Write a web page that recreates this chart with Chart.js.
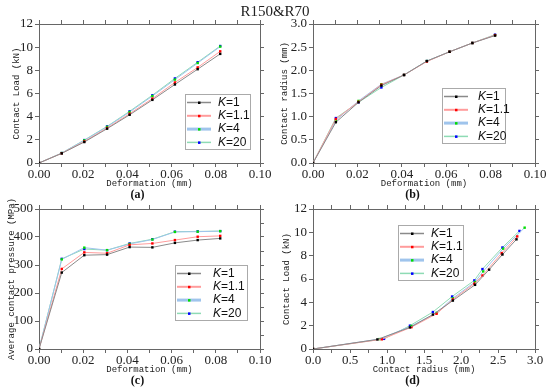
<!DOCTYPE html>
<html>
<head>
<meta charset="utf-8">
<script src="https://cdn.jsdelivr.net/npm/chart.js@4.4.1/dist/chart.umd.min.js"></script>
<style>
	body { margin: 0; background: #fff; }
	#pagina { position: relative; width: 550px; height: 389px; overflow: hidden; }
	#pagina canvas { position: absolute; }
	#titulo { position: absolute; left: 0; top: 3px; width: 550px; text-align: center; font: 15px/17px 'Liberation Serif'; color: #222; }
</style>
</head>
<body>
<div id="pagina">
	<canvas id="graficoA" width="275" height="201" style="left:0;top:0;width:275px;height:201px"></canvas>
	<canvas id="graficoB" width="275" height="201" style="left:275px;top:0;width:275px;height:201px"></canvas>
	<canvas id="graficoC" width="275" height="199" style="left:0;top:190px;width:275px;height:199px"></canvas>
	<canvas id="graficoD" width="275" height="199" style="left:275px;top:190px;width:275px;height:199px"></canvas>
	<div id="titulo">R150&amp;R70</div>
</div>
<script>
// valores
var seriesLabels = ['K=1', 'K=1.1', 'K=4', 'K=20'];
var deformation = [0, 0.0103, 0.0205, 0.0308, 0.041, 0.0513, 0.0615, 0.0718, 0.082];

var loadK1   = [0, 0.83, 1.81, 2.96, 4.16, 5.45, 6.78, 8.10, 9.42];
var loadK1_1 = [0, 0.84, 1.86, 3.02, 4.25, 5.56, 6.95, 8.25, 9.64];
var loadK4   = [0, 0.86, 1.95, 3.12, 4.40, 5.78, 7.20, 8.63, 10.05];
var loadK20  = [0, 0.86, 1.98, 3.16, 4.46, 5.85, 7.30, 8.70, 10.10];

var radiusK1   = [0, 0.88, 1.31, 1.67, 1.90, 2.20, 2.40, 2.59, 2.75];
var radiusK1_1 = [0, 0.95, 1.32, 1.69, 1.90, 2.19, 2.40, 2.59, 2.76];
var radiusK4   = [0, 0.92, 1.34, 1.70, 1.90, 2.20, 2.40, 2.59, 2.76];
var radiusK20  = [0, 0.97, 1.31, 1.63, 1.90, 2.20, 2.40, 2.59, 2.77];

var pressureK1   = [0, 273, 335, 337, 364, 363, 379, 389, 395];
var pressureK1_1 = [0, 286, 345, 342, 372, 377, 389, 401, 404];
var pressureK4   = [0, 320, 362, 353, 375, 391, 418, 419, 421];
var pressureK20  = [0, 322, 357, 353, 377, 392, 419, 420, 421];

// painel (d): raio x carga
var curveRadiusK1   = [0, 0.87, 1.31, 1.62, 1.89, 2.19, 2.38, 2.56, 2.75];
var curveRadiusK1_1 = [0, 0.93, 1.33, 1.67, 1.89, 2.18, 2.29, 2.55, 2.76];
var curveRadiusK4   = [0, 0.90, 1.33, 1.67, 1.89, 2.19, 2.30, 2.57, 2.86];
var curveRadiusK20  = [0, 0.96, 1.31, 1.62, 1.88, 2.18, 2.29, 2.56, 2.79];
var curveLoadK1   = [0, 0.82, 1.85, 2.95, 4.15, 5.50, 6.80, 8.10, 9.40];
var curveLoadK1_1 = [0, 0.83, 1.87, 3.02, 4.25, 5.60, 6.30, 8.22, 9.65];
var curveLoadK4   = [0, 0.85, 1.97, 3.10, 4.35, 5.75, 6.65, 8.60, 10.40];
var curveLoadK20  = [0, 0.87, 2.00, 3.17, 4.50, 5.88, 6.85, 8.70, 10.12];

var lineColors = ['#8a8a8a', '#ff9c9c', '#9fc4ec', '#8edbb4'];
var pointColors = ['#000000', '#ff0000', '#00dd00', '#0000ff'];
var legendLineWidths = [1.5, 2, 3, 1.5];

var eixoCor = '#666';
var fonteTick = { family: 'Liberation Serif', size: 13 };
var fonteTitulo = { family: 'Liberation Mono', size: 9, lineHeight: 1.2 };

function pontos(xs, ys) {
	return xs.map(function(x, i) { return { x: x, y: ys[i] }; });
}

function series(xsList, ysList) {
	return seriesLabels.map(function(label, i) {
		return {
			label: label,
			data: pontos(xsList[i], ysList[i]),
			borderColor: lineColors[i],
			borderWidth: 1,
			pointStyle: 'rect',
			pointRadius: 1.7,
			pointBorderWidth: 0,
			pointBackgroundColor: pointColors[i],
			backgroundColor: pointColors[i],
			tension: 0
		};
	});
}

function rotuloMarca(marca, decimais) {
	return function(v) {
		var r = v / marca;
		return Math.abs(r - Math.round(r)) < 1e-6 ? v.toFixed(decimais) : '';
	};
}

function eixo(posicao, min, max, passo, marca, decimais, titulo, tamanho, tituloPad) {
	var horizontal = posicao === 'bottom';
	return {
		type: 'linear',
		position: posicao,
		min: min,
		max: max,
		border: { color: eixoCor },
		grid: { drawOnChartArea: false, color: eixoCor, tickLength: 4 },
		ticks: {
			stepSize: passo, autoSkip: false, maxRotation: 0, padding: horizontal ? 0 : 2,
			font: fonteTick, color: '#222', callback: rotuloMarca(marca, decimais)
		},
		title: { display: true, text: titulo, font: fonteTitulo, color: '#222', padding: { top: tituloPad, bottom: 0 } },
		afterFit: function(s) { if (horizontal) s.height = tamanho; else s.width = tamanho; }
	};
}

function espelho(posicao, min, max, passo) {
	return {
		type: 'linear',
		position: posicao,
		min: min,
		max: max,
		border: { color: eixoCor },
		grid: { drawOnChartArea: false, color: eixoCor, tickLength: 4 },
		ticks: { stepSize: passo, autoSkip: false, padding: 0, callback: function() { return ''; } },
		afterFit: function(s) { if (s.isHorizontal()) s.height = 4; else s.width = 15; }
	};
}

var legendaInterna = {
	id: 'legendaInterna',
	afterDatasetsDraw: function(chart, args, opts) {
		var ctx = chart.ctx;
		var area = chart.chartArea;
		var x = Math.round(area.left + opts.x), y = Math.round(area.top + opts.y);
		ctx.save();
		ctx.fillStyle = '#fff';
		ctx.fillRect(x, y, opts.w, 55);
		ctx.strokeStyle = '#aaa';
		ctx.lineWidth = 1;
		ctx.strokeRect(x + 0.5, y + 0.5, opts.w, 55);
		chart.data.datasets.forEach(function(ds, i) {
			var cy = y + 8.5 + i * 13.3;
			ctx.strokeStyle = ds.borderColor;
			ctx.lineWidth = legendLineWidths[i];
			ctx.beginPath();
			ctx.moveTo(x + 2, cy);
			ctx.lineTo(x + 26, cy);
			ctx.stroke();
			ctx.fillStyle = ds.pointBackgroundColor;
			ctx.fillRect(x + 13, cy - 1, 2.5, 2.5);
			ctx.fillStyle = '#111';
			ctx.textBaseline = 'middle';
			ctx.font = 'italic 12px "Liberation Sans"';
			var tx = x + opts.texto;
			ctx.fillText(ds.label.slice(0, 1), tx, cy);
			tx += ctx.measureText(ds.label.slice(0, 1)).width;
			ctx.font = '12px "Liberation Sans"';
			ctx.fillText(ds.label.slice(1), tx, cy);
		});
		ctx.restore();
	}
};

function Grafico(id, datasets, escalas, painel, legenda, topo, baixo) {
	this.ctx = document.getElementById(id).getContext('2d');
	this.config = {
		type: 'line',
		data: { datasets: datasets },
		options: {
			responsive: false,
			animation: false,
			layout: { padding: { top: topo, left: 0, right: 0, bottom: baixo } },
			scales: escalas,
			plugins: {
				legend: { display: false },
				tooltip: { enabled: false },
				title: {
					display: true, position: 'bottom', text: painel, color: '#111', padding: 0,
					font: { family: 'Liberation Serif', size: 12, weight: 'bold', lineHeight: 1 }
				},
				legendaInterna: legenda
			}
		},
		plugins: [legendaInterna]
	};
}

Grafico.prototype.iniciar = function() {
	return new Chart(this.ctx, this.config);
};

new Grafico('graficoA',
	series([deformation, deformation, deformation, deformation], [loadK1, loadK1_1, loadK4, loadK20]),
	{
		x: eixo('bottom', 0, 0.1, 0.01, 0.02, 2, 'Deformation (mm)', 26, 0),
		y: eixo('left', 0, 12, 2, 2, 0, 'Contact Load (kN)', 39, 11),
		x2: espelho('top', 0, 0.1, 0.01),
		y2: espelho('right', 0, 12, 2)
	},
	'(a)', { x: 146, y: 70, w: 65, texto: 33 }, 20, 0).iniciar();

new Grafico('graficoB',
	series([deformation, deformation, deformation, deformation], [radiusK1, radiusK1_1, radiusK4, radiusK20]),
	{
		x: eixo('bottom', 0, 0.1, 0.01, 0.02, 2, 'Deformation (mm)', 26, 0),
		y: eixo('left', 0, 3, 0.5, 0.5, 1, 'Contact radius (mm)', 38, 4),
		x2: espelho('top', 0, 0.1, 0.01),
		y2: espelho('right', 0, 3, 0.5)
	},
	'(b)', { x: 129, y: 64, w: 63, texto: 36 }, 20, 0).iniciar();

new Grafico('graficoC',
	series([deformation, deformation, deformation, deformation], [pressureK1, pressureK1_1, pressureK4, pressureK20]),
	{
		x: eixo('bottom', 0, 0.1, 0.01, 0.02, 2, 'Deformation (mm)', 26, 0),
		y: eixo('left', 0, 500, 100, 100, 0, 'Average contact pressure (MPa)', 39, 6),
		x2: espelho('top', 0, 0.1, 0.01),
		y2: espelho('right', 0, 500, 50)
	},
	'(c)', { x: 136, y: 56, w: 72, texto: 38 }, 15, 2).iniciar();

new Grafico('graficoD',
	series([curveRadiusK1, curveRadiusK1_1, curveRadiusK4, curveRadiusK20], [curveLoadK1, curveLoadK1_1, curveLoadK4, curveLoadK20]),
	{
		x: eixo('bottom', 0, 3, 0.25, 0.5, 1, 'Contact radius (mm)', 26, 0),
		y: eixo('left', 0, 12, 2, 2, 0, 'Contact Load (kN)', 38, 6),
		x2: espelho('top', 0, 3, 0.25),
		y2: espelho('right', 0, 12, 2)
	},
	'(d)', { x: 85, y: 16, w: 65, texto: 33 }, 15, 2).iniciar();
</script>
</body>
</html>
